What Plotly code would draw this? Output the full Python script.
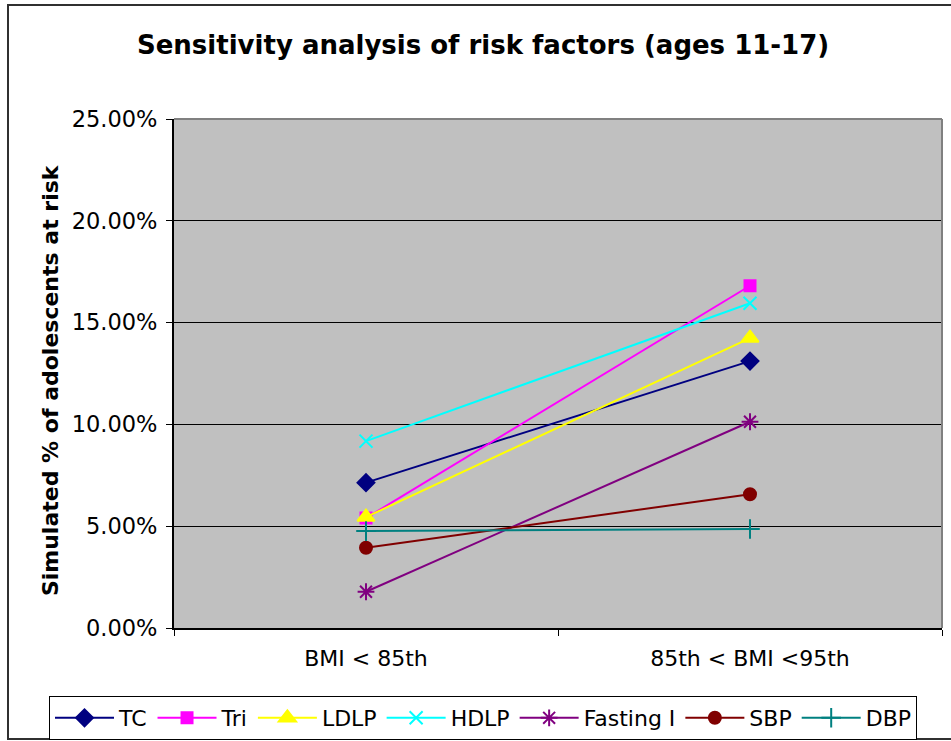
import plotly.graph_objects as go

categories = ["BMI < 85th", "85th < BMI <95th"]

tc = [0.0714, 0.1311]
tri = [0.0540, 0.1681]
ldlp = [0.0545, 0.1424]
hdlp = [0.0918, 0.1595]
fasting = [0.0178, 0.1013]
sbp = [0.0394, 0.0657]
dbp = [0.0476, 0.0486]

series = [
    ("TC", tc, "#000080", "diamond", 13),
    ("Tri", tri, "#FF00FF", "square", 11),
    ("LDLP", ldlp, "#FFFF00", "triangle-up", 15),
    ("HDLP", hdlp, "#00FFFF", "x-thin-open", 13),
    ("Fasting I", fasting, "#800080", "asterisk-open", 14),
    ("SBP", sbp, "#800000", "circle", 12),
    ("DBP", dbp, "#008080", "cross-thin-open", 14),
]

FONT = "DejaVu Sans"

fig = go.Figure()
for name, vals, color, symbol, size in series:
    fig.add_trace(go.Scatter(
        x=categories, y=vals, name=name, mode="lines+markers",
        line=dict(color=color, width=2),
        marker=dict(symbol=symbol, size=size, color=color,
                    line=dict(color=color, width=2)),
    ))

# Excel-style frame: outer chart border, grey top/right of plot area
fig.add_shape(type="rect", xref="paper", yref="paper",
              x0=(8 - 174) / 768, x1=(975 - 174) / 768,
              y0=(628 - 739) / 509, y1=(628 - 5) / 509,
              line=dict(color="#303030", width=2), layer="above")
fig.add_shape(type="line", xref="paper", yref="paper", x0=0, x1=1, y0=1, y1=1,
              line=dict(color="#808080", width=2), layer="above")
fig.add_shape(type="line", xref="paper", yref="paper", x0=1, x1=1, y0=0, y1=1,
              line=dict(color="#808080", width=2), layer="above")

fig.add_annotation(
    text="<b>Simulated % of adolescents at risk</b>", textangle=-90,
    xref="paper", yref="paper", x=(50 - 174) / 768, y=0.487,
    xanchor="center", yanchor="middle", showarrow=False,
    font=dict(family=FONT, size=22, color="black"),
)

fig.update_layout(
    width=951, height=741,
    margin=dict(l=174, r=9, t=119, b=113, autoexpand=False),
    paper_bgcolor="white", plot_bgcolor="#C0C0C0",
    font=dict(family=FONT, color="black"),
    title=dict(text="<b>Sensitivity analysis of risk factors (ages 11-17)</b>",
               x=0.508, xanchor="center", y=1 - 45 / 741, yanchor="middle",
               font=dict(family=FONT, size=26, color="black")),
    xaxis=dict(range=[-0.5, 1.5], tickson="boundaries", ticks="outside",
               ticklen=6, tickcolor="black", showline=True, linecolor="black",
               linewidth=2, showgrid=False, tickfont=dict(size=22),
               ticklabelstandoff=10, automargin=False),
    yaxis=dict(range=[0, 0.25], dtick=0.05, tickformat=".2%", ticks="outside",
               ticklen=6, tickcolor="black", showline=True, linecolor="black",
               linewidth=2, showgrid=True, gridcolor="black", gridwidth=1,
               zeroline=False, tickfont=dict(size=22.5), ticklabelstandoff=4,
               automargin=False),
    legend=dict(orientation="h", x=(49 - 174) / 768, xanchor="left",
                y=(628 - 696) / 509, yanchor="top",
                bordercolor="black", borderwidth=1, bgcolor="white",
                font=dict(size=22), itemwidth=59, tracegroupgap=0),
)

fig.write_html("out.html", post_script="document.body.style.margin='0px';",
               config={"displayModeBar": False})
